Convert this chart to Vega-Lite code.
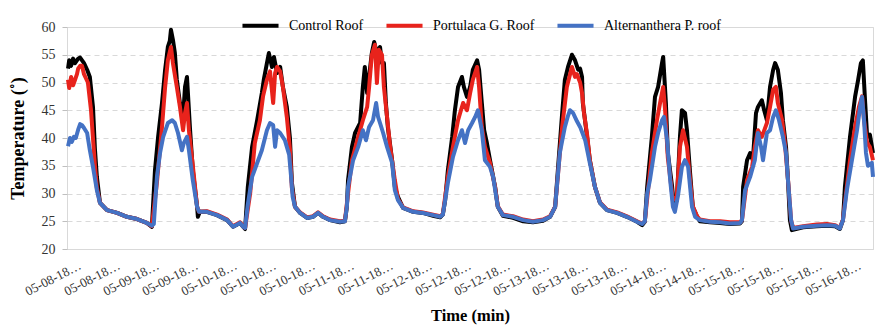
{
 "$schema": "https://vega.github.io/schema/vega-lite/v6.json",
 "width": 806,
 "height": 222,
 "autosize": {"type": "none"},
 "padding": {"left": 67, "top": 27, "right": 3, "bottom": 80},
 "config": {"view": {"stroke": "#d9d9d9", "strokeWidth": 1}, "font": "Liberation Serif"},
 "datasets": {
  "control": [
   {"t":-0.23,"temp":52.5},{"t":-0.2,"temp":54},{"t":-0.15,"temp":53},{"t":-0.1,"temp":54.3},{"t":-0.05,"temp":53.5},{"t":0.03,"temp":54.3},{"t":0.08,"temp":54.5},{"t":0.13,"temp":54},{"t":0.18,"temp":53.5},{"t":0.26,"temp":52.3},{"t":0.33,"temp":51},{"t":0.41,"temp":45.6},{"t":0.46,"temp":38},{"t":0.51,"temp":33},{"t":0.59,"temp":28.3},{"t":0.77,"temp":27},{"t":1.03,"temp":26.5},{"t":1.28,"temp":25.8},{"t":1.54,"temp":25.4},{"t":1.79,"temp":24.7},{"t":1.92,"temp":24},
   {"t":2.0,"temp":34.2},{"t":2.08,"temp":40.2},{"t":2.18,"temp":46.3},{"t":2.26,"temp":52.3},{"t":2.33,"temp":56.4},{"t":2.38,"temp":57.5},{"t":2.41,"temp":59.5},{"t":2.46,"temp":57.7},{"t":2.51,"temp":55.3},{"t":2.56,"temp":50.5},{"t":2.64,"temp":46.3},{"t":2.72,"temp":43.8},{"t":2.77,"temp":49.2},{"t":2.82,"temp":51},{"t":2.85,"temp":47.4},{"t":2.9,"temp":41.4},{"t":2.97,"temp":34.2},{"t":3.08,"temp":27.6},{"t":3.1,"temp":25.8},{"t":3.15,"temp":26.7},{"t":3.33,"temp":26.7},{"t":3.59,"temp":26.1},{"t":3.85,"temp":25.2},{"t":4.0,"temp":24},{"t":4.18,"temp":24.7},{"t":4.26,"temp":24},{"t":4.31,"temp":23.6},
   {"t":4.38,"temp":31.2},{"t":4.49,"temp":38.4},{"t":4.62,"temp":43.2},{"t":4.74,"temp":48.1},{"t":4.79,"temp":50.5},{"t":4.87,"temp":53.5},{"t":4.92,"temp":55.3},{"t":5.0,"temp":52.8},{"t":5.05,"temp":54.6},{"t":5.13,"temp":51.7},{"t":5.21,"temp":52.8},{"t":5.28,"temp":49.2},{"t":5.38,"temp":45.6},{"t":5.46,"temp":40},{"t":5.51,"temp":32},{"t":5.59,"temp":27.6},{"t":5.72,"temp":26.5},{"t":5.9,"temp":25.6},{"t":6.05,"temp":25.8},{"t":6.18,"temp":26.5},{"t":6.31,"temp":25.8},{"t":6.49,"temp":25.2},{"t":6.74,"temp":24.8},{"t":6.87,"temp":25},
   {"t":6.92,"temp":27.6},{"t":6.95,"temp":32.4},{"t":7.05,"temp":38.4},{"t":7.13,"temp":40.9},{"t":7.26,"temp":42.7},{"t":7.33,"temp":49.2},{"t":7.38,"temp":52.8},{"t":7.44,"temp":48.1},{"t":7.56,"temp":55.3},{"t":7.62,"temp":57.3},{"t":7.69,"temp":55.3},{"t":7.77,"temp":56.4},{"t":7.82,"temp":53.5},{"t":7.87,"temp":53.5},{"t":7.92,"temp":46.3},{"t":7.97,"temp":42},{"t":8.08,"temp":36},{"t":8.15,"temp":31.2},{"t":8.23,"temp":29.4},{"t":8.36,"temp":27.4},{"t":8.62,"temp":26.7},{"t":8.87,"temp":26.5},{"t":9.13,"temp":26},{"t":9.31,"temp":25.7},{"t":9.38,"temp":26.2},
   {"t":9.44,"temp":28.8},{"t":9.51,"temp":34.2},{"t":9.62,"temp":40.2},{"t":9.69,"temp":45},{"t":9.77,"temp":49.2},{"t":9.87,"temp":51},{"t":9.92,"temp":49.2},{"t":10.0,"temp":47.4},{"t":10.08,"temp":49.2},{"t":10.15,"temp":52.3},{"t":10.26,"temp":54},{"t":10.31,"temp":52.3},{"t":10.38,"temp":46.3},{"t":10.44,"temp":41.4},{"t":10.51,"temp":39.1},{"t":10.59,"temp":36},{"t":10.72,"temp":31.2},{"t":10.79,"temp":27.6},{"t":10.92,"temp":26},{"t":11.18,"temp":25.6},{"t":11.44,"temp":25},{"t":11.69,"temp":24.8},{"t":11.95,"temp":25.1},{"t":12.13,"temp":25.8},{"t":12.26,"temp":27.6},
   {"t":12.33,"temp":34.2},{"t":12.44,"temp":44.5},{"t":12.51,"temp":50.5},{"t":12.59,"temp":52.8},{"t":12.69,"temp":55},{"t":12.77,"temp":54},{"t":12.85,"temp":52.3},{"t":12.9,"temp":52.5},{"t":12.95,"temp":51},{"t":12.97,"temp":46.3},{"t":13.08,"temp":40.2},{"t":13.15,"temp":36},{"t":13.28,"temp":31.2},{"t":13.41,"temp":28.3},{"t":13.59,"temp":27},{"t":13.85,"temp":26.5},{"t":14.1,"temp":25.8},{"t":14.36,"temp":24.9},{"t":14.49,"temp":24.3},{"t":14.56,"temp":24.9},
   {"t":14.62,"temp":31.2},{"t":14.74,"temp":40.2},{"t":14.82,"temp":47.4},{"t":14.9,"temp":49.2},{"t":15.0,"temp":53.5},{"t":15.03,"temp":54.6},{"t":15.1,"temp":46.3},{"t":15.15,"temp":37.3},{"t":15.26,"temp":31.2},{"t":15.31,"temp":27.6},{"t":15.38,"temp":28.8},{"t":15.46,"temp":40.2},{"t":15.51,"temp":45},{"t":15.59,"temp":44.5},{"t":15.64,"temp":41.4},{"t":15.72,"temp":33.7},{"t":15.79,"temp":27.6},{"t":15.9,"temp":25.8},{"t":15.97,"temp":25},{"t":16.23,"temp":24.8},{"t":16.49,"temp":24.7},{"t":16.74,"temp":24.5},{"t":17.0,"temp":24.6},{"t":17.05,"temp":25},
   {"t":17.08,"temp":31.2},{"t":17.18,"temp":36},{"t":17.26,"temp":37.3},{"t":17.33,"temp":36},{"t":17.41,"temp":44.5},{"t":17.46,"temp":45.6},{"t":17.56,"temp":46.8},{"t":17.62,"temp":45},{"t":17.69,"temp":43.2},{"t":17.77,"temp":49.2},{"t":17.85,"temp":52.3},{"t":17.9,"temp":53.5},{"t":17.97,"temp":52.3},{"t":18.05,"temp":48.1},{"t":18.1,"temp":43.2},{"t":18.18,"temp":38.4},{"t":18.23,"temp":32.4},{"t":18.28,"temp":25.2},{"t":18.33,"temp":23.4},{"t":18.62,"temp":23.9},{"t":18.97,"temp":24.1},{"t":19.23,"temp":24.2},{"t":19.44,"temp":24.1},{"t":19.56,"temp":23.6},{"t":19.64,"temp":25.2},
   {"t":19.69,"temp":31.2},{"t":19.82,"temp":40.2},{"t":19.95,"temp":47.4},{"t":20.03,"temp":50.5},{"t":20.1,"temp":53.5},{"t":20.15,"temp":54},{"t":20.21,"temp":46.3},{"t":20.26,"temp":40.2},{"t":20.33,"temp":40.6},{"t":20.41,"temp":37.3}
  ],
  "portulaca": [
   {"t":-0.23,"temp":50.5},{"t":-0.2,"temp":49},{"t":-0.15,"temp":51},{"t":-0.1,"temp":49.5},{"t":-0.05,"temp":50.5},{"t":0.0,"temp":51.5},{"t":0.03,"temp":52.5},{"t":0.08,"temp":53},{"t":0.13,"temp":53},{"t":0.18,"temp":51.5},{"t":0.28,"temp":50},{"t":0.36,"temp":45},{"t":0.41,"temp":40},{"t":0.46,"temp":35},{"t":0.51,"temp":31},{"t":0.59,"temp":28.3},{"t":0.77,"temp":27},{"t":1.03,"temp":26.5},{"t":1.28,"temp":25.8},{"t":1.54,"temp":25.4},{"t":1.79,"temp":24.7},{"t":1.92,"temp":24.1},
   {"t":2.05,"temp":32},{"t":2.18,"temp":42},{"t":2.26,"temp":49.2},{"t":2.33,"temp":54},{"t":2.41,"temp":56.4},{"t":2.46,"temp":53.5},{"t":2.56,"temp":49.2},{"t":2.64,"temp":45.6},{"t":2.72,"temp":41.4},{"t":2.77,"temp":44.5},{"t":2.82,"temp":46.3},{"t":2.87,"temp":41.4},{"t":2.97,"temp":35},{"t":3.08,"temp":27.6},{"t":3.13,"temp":26.7},{"t":3.33,"temp":26.8},{"t":3.59,"temp":26.2},{"t":3.85,"temp":25.3},{"t":4.0,"temp":24.1},{"t":4.18,"temp":24.8},{"t":4.26,"temp":24.1},{"t":4.31,"temp":23.8},
   {"t":4.44,"temp":30},{"t":4.56,"temp":39.1},{"t":4.69,"temp":43.2},{"t":4.77,"temp":47.5},{"t":4.87,"temp":50.5},{"t":4.95,"temp":52},{"t":5.03,"temp":46.3},{"t":5.08,"temp":51.7},{"t":5.13,"temp":52.8},{"t":5.21,"temp":52},{"t":5.28,"temp":49.2},{"t":5.38,"temp":43.8},{"t":5.46,"temp":38},{"t":5.51,"temp":31},{"t":5.59,"temp":27.6},{"t":5.72,"temp":26.6},{"t":5.9,"temp":25.7},{"t":6.05,"temp":25.9},{"t":6.18,"temp":26.6},{"t":6.31,"temp":25.9},{"t":6.49,"temp":25.3},{"t":6.74,"temp":25},{"t":6.87,"temp":25.1},
   {"t":6.95,"temp":30},{"t":7.05,"temp":36},{"t":7.21,"temp":40.2},{"t":7.33,"temp":43.2},{"t":7.44,"temp":45.6},{"t":7.49,"temp":49.2},{"t":7.56,"temp":55},{"t":7.64,"temp":56.8},{"t":7.69,"temp":49.9},{"t":7.74,"temp":55.9},{"t":7.82,"temp":55},{"t":7.87,"temp":49.2},{"t":7.95,"temp":43.8},{"t":8.03,"temp":38.4},{"t":8.15,"temp":32.4},{"t":8.23,"temp":29},{"t":8.36,"temp":27.5},{"t":8.62,"temp":26.8},{"t":8.87,"temp":26.6},{"t":9.13,"temp":26.2},{"t":9.31,"temp":25.9},{"t":9.38,"temp":26.3},
   {"t":9.51,"temp":33},{"t":9.64,"temp":38.4},{"t":9.77,"temp":43.2},{"t":9.9,"temp":46.3},{"t":10.0,"temp":45},{"t":10.08,"temp":48.1},{"t":10.15,"temp":50.5},{"t":10.26,"temp":52.8},{"t":10.31,"temp":49.2},{"t":10.38,"temp":42},{"t":10.46,"temp":38.4},{"t":10.59,"temp":35.5},{"t":10.72,"temp":31.2},{"t":10.79,"temp":27.7},{"t":10.92,"temp":26.2},{"t":11.18,"temp":25.9},{"t":11.44,"temp":25.3},{"t":11.69,"temp":25},{"t":11.95,"temp":25.3},{"t":12.13,"temp":25.9},{"t":12.26,"temp":27.6},
   {"t":12.44,"temp":42},{"t":12.56,"temp":49.2},{"t":12.69,"temp":52.8},{"t":12.77,"temp":51},{"t":12.82,"temp":51.5},{"t":12.9,"temp":50},{"t":12.95,"temp":48.1},{"t":13.0,"temp":44.5},{"t":13.08,"temp":40.6},{"t":13.15,"temp":36},{"t":13.28,"temp":31.2},{"t":13.41,"temp":28.4},{"t":13.59,"temp":27.1},{"t":13.85,"temp":26.6},{"t":14.1,"temp":25.9},{"t":14.36,"temp":25},{"t":14.49,"temp":24.6},{"t":14.56,"temp":25},
   {"t":14.74,"temp":37.3},{"t":14.87,"temp":43.2},{"t":14.95,"temp":46.3},{"t":15.03,"temp":49.2},{"t":15.08,"temp":45},{"t":15.15,"temp":36.4},{"t":15.28,"temp":28.8},{"t":15.38,"temp":29.5},{"t":15.46,"temp":38.4},{"t":15.54,"temp":41.4},{"t":15.64,"temp":38.4},{"t":15.72,"temp":32.4},{"t":15.79,"temp":27.7},{"t":15.9,"temp":25.9},{"t":15.97,"temp":25.3},{"t":16.23,"temp":25},{"t":16.49,"temp":25},{"t":16.74,"temp":24.8},{"t":17.0,"temp":24.8},{"t":17.05,"temp":25.2},
   {"t":17.18,"temp":32.4},{"t":17.31,"temp":34.8},{"t":17.38,"temp":38.4},{"t":17.46,"temp":41.4},{"t":17.56,"temp":40.2},{"t":17.69,"temp":42.7},{"t":17.77,"temp":45.6},{"t":17.85,"temp":48.7},{"t":17.92,"temp":49.2},{"t":17.97,"temp":46.3},{"t":18.08,"temp":43.2},{"t":18.15,"temp":39.1},{"t":18.23,"temp":32.6},{"t":18.31,"temp":25.2},{"t":18.36,"temp":23.8},{"t":18.62,"temp":24.1},{"t":18.97,"temp":24.4},{"t":19.23,"temp":24.5},{"t":19.44,"temp":24.3},{"t":19.56,"temp":23.8},{"t":19.64,"temp":25.3},
   {"t":19.82,"temp":36},{"t":19.95,"temp":42},{"t":20.05,"temp":45.6},{"t":20.13,"temp":47.5},{"t":20.18,"temp":43.2},{"t":20.26,"temp":39.1},{"t":20.33,"temp":38.4},{"t":20.41,"temp":36}
  ],
  "alternanthera": [
   {"t":-0.23,"temp":38.5},{"t":-0.18,"temp":40},{"t":-0.13,"temp":39.3},{"t":-0.08,"temp":40.2},{"t":-0.03,"temp":40},{"t":0.03,"temp":41.5},{"t":0.08,"temp":42.5},{"t":0.13,"temp":42.3},{"t":0.18,"temp":41.8},{"t":0.26,"temp":40.9},{"t":0.33,"temp":37.8},{"t":0.41,"temp":34.8},{"t":0.51,"temp":30.6},{"t":0.59,"temp":28.3},{"t":0.77,"temp":27},{"t":1.03,"temp":26.5},{"t":1.28,"temp":25.8},{"t":1.54,"temp":25.4},{"t":1.79,"temp":24.7},{"t":1.92,"temp":24.2},{"t":1.97,"temp":24.5},
   {"t":2.05,"temp":33},{"t":2.13,"temp":37.3},{"t":2.21,"temp":40.2},{"t":2.33,"temp":42.7},{"t":2.44,"temp":43.2},{"t":2.51,"temp":42.7},{"t":2.59,"temp":40.9},{"t":2.69,"temp":37.8},{"t":2.74,"temp":39.1},{"t":2.82,"temp":40.2},{"t":2.87,"temp":37.8},{"t":2.97,"temp":32.4},{"t":3.08,"temp":27.6},{"t":3.13,"temp":26.7},{"t":3.33,"temp":26.7},{"t":3.59,"temp":26.1},{"t":3.85,"temp":25.2},{"t":4.0,"temp":24},{"t":4.18,"temp":24.7},{"t":4.26,"temp":24},{"t":4.31,"temp":23.8},
   {"t":4.38,"temp":28},{"t":4.49,"temp":33},{"t":4.62,"temp":35.5},{"t":4.74,"temp":37.8},{"t":4.87,"temp":41.4},{"t":4.95,"temp":42.7},{"t":5.03,"temp":42.3},{"t":5.08,"temp":38.4},{"t":5.13,"temp":41.4},{"t":5.21,"temp":40.9},{"t":5.33,"temp":39.6},{"t":5.44,"temp":37},{"t":5.49,"temp":33},{"t":5.53,"temp":29.4},{"t":5.59,"temp":27.6},{"t":5.72,"temp":26.5},{"t":5.9,"temp":25.6},{"t":6.05,"temp":25.8},{"t":6.18,"temp":26.5},{"t":6.31,"temp":25.8},{"t":6.49,"temp":25.2},{"t":6.74,"temp":24.9},{"t":6.87,"temp":25},
   {"t":6.92,"temp":27.6},{"t":6.95,"temp":31.2},{"t":7.08,"temp":36},{"t":7.21,"temp":38.4},{"t":7.33,"temp":41.4},{"t":7.41,"temp":39.6},{"t":7.49,"temp":42},{"t":7.59,"temp":43.2},{"t":7.67,"temp":46.3},{"t":7.72,"temp":43.8},{"t":7.77,"temp":42.7},{"t":7.85,"temp":40.9},{"t":7.95,"temp":38.4},{"t":8.08,"temp":35.5},{"t":8.15,"temp":30.6},{"t":8.23,"temp":28.8},{"t":8.36,"temp":27.4},{"t":8.62,"temp":26.7},{"t":8.87,"temp":26.5},{"t":9.13,"temp":26.1},{"t":9.31,"temp":25.8},{"t":9.38,"temp":26.2},
   {"t":9.44,"temp":28.8},{"t":9.51,"temp":31.9},{"t":9.64,"temp":36.6},{"t":9.77,"temp":39.6},{"t":9.87,"temp":41.4},{"t":9.95,"temp":39.1},{"t":10.03,"temp":41.4},{"t":10.13,"temp":42.7},{"t":10.21,"temp":43.8},{"t":10.28,"temp":45},{"t":10.38,"temp":41.4},{"t":10.46,"temp":36},{"t":10.59,"temp":34.8},{"t":10.67,"temp":33},{"t":10.79,"temp":27.6},{"t":10.92,"temp":26.1},{"t":11.18,"temp":25.8},{"t":11.44,"temp":25.2},{"t":11.69,"temp":24.9},{"t":11.95,"temp":25.2},{"t":12.13,"temp":25.8},{"t":12.26,"temp":27.6},
   {"t":12.38,"temp":37.3},{"t":12.51,"temp":42},{"t":12.59,"temp":44},{"t":12.64,"temp":45},{"t":12.72,"temp":44.5},{"t":12.82,"temp":43},{"t":12.9,"temp":42},{"t":13.03,"temp":39.6},{"t":13.15,"temp":35.5},{"t":13.28,"temp":31.2},{"t":13.41,"temp":28.3},{"t":13.59,"temp":27},{"t":13.85,"temp":26.5},{"t":14.1,"temp":25.8},{"t":14.36,"temp":24.9},{"t":14.49,"temp":24.5},{"t":14.56,"temp":25},
   {"t":14.62,"temp":30},{"t":14.69,"temp":32.4},{"t":14.82,"temp":38.4},{"t":14.9,"temp":40.9},{"t":15.0,"temp":43.2},{"t":15.05,"temp":43.8},{"t":15.13,"temp":39.6},{"t":15.21,"temp":32.4},{"t":15.28,"temp":27.6},{"t":15.33,"temp":26.7},{"t":15.41,"temp":29.6},{"t":15.51,"temp":34.8},{"t":15.59,"temp":36},{"t":15.67,"temp":34.8},{"t":15.77,"temp":27.6},{"t":15.85,"temp":25.8},{"t":15.97,"temp":25.2},{"t":16.23,"temp":24.9},{"t":16.49,"temp":24.8},{"t":16.74,"temp":24.6},{"t":17.0,"temp":24.7},{"t":17.05,"temp":25.2},
   {"t":17.13,"temp":30.6},{"t":17.26,"temp":33},{"t":17.38,"temp":36},{"t":17.46,"temp":40.9},{"t":17.54,"temp":38.4},{"t":17.59,"temp":36},{"t":17.69,"temp":40.9},{"t":17.77,"temp":41.4},{"t":17.85,"temp":43.8},{"t":17.92,"temp":45},{"t":18.0,"temp":43.2},{"t":18.1,"temp":40.2},{"t":18.18,"temp":37.3},{"t":18.23,"temp":32.4},{"t":18.31,"temp":25.2},{"t":18.36,"temp":23.7},{"t":18.62,"temp":24},{"t":18.97,"temp":24.2},{"t":19.23,"temp":24.3},{"t":19.44,"temp":24.2},{"t":19.56,"temp":23.7},{"t":19.64,"temp":25.2},
   {"t":19.74,"temp":30.6},{"t":19.87,"temp":36},{"t":20.0,"temp":41.4},{"t":20.08,"temp":45.6},{"t":20.13,"temp":47.4},{"t":20.18,"temp":43.2},{"t":20.23,"temp":37.3},{"t":20.28,"temp":35},{"t":20.38,"temp":35.5},{"t":20.41,"temp":33}
  ]
 },
 "encoding": {
  "x": {
   "field": "t", "type": "quantitative",
   "scale": {"domain": [-0.256, 20.41], "nice": false, "zero": false},
   "axis": {
    "values": [0,1,2,3,4,5,6,7,8,9,10,11,12,13,14,15,16,17,18,19,20],
    "labelExpr": "['05-08-18…','05-08-18…','05-09-18…','05-09-18…','05-10-18…','05-10-18…','05-10-18…','05-11-18…','05-11-18…','05-12-18…','05-12-18…','05-12-18…','05-13-18…','05-13-18…','05-13-18…','05-14-18…','05-14-18…','05-15-18…','05-15-18…','05-15-18…','05-16-18…'][datum.value]",
    "labelAngle": -27, "labelFontSize": 13, "labelColor": "#333333", "labelFont": "Liberation Serif",
    "labelPadding": 10, "labelOverlap": false, "labelFlush": false, "labelBound": false,
    "ticks": false, "grid": false, "domainColor": "#d9d9d9",
    "title": "Time (min)", "titleFont": "Liberation Serif", "titleFontSize": 16.5, "titleFontWeight": "bold", "titleColor": "#000000", "titlePadding": 9
   }
  },
  "y": {
   "field": "temp", "type": "quantitative",
   "scale": {"domain": [20, 60], "nice": false, "zero": false},
   "axis": {
    "values": [20,25,30,35,40,45,50,55,60],
    "grid": true, "gridDash": [5, 4], "gridColor": "#d9d9d9",
    "domain": false, "tickColor": "#bfbfbf", "tickSize": 5,
    "labelFontSize": 14, "labelColor": "#333333", "labelFont": "Liberation Serif", "labelPadding": 7,
    "title": "Temperature (˚)", "titleFont": "Liberation Serif", "titleFontSize": 18, "titleFontWeight": "bold", "titleColor": "#000000", "titlePadding": 14
   }
  },
  "color": {
   "datum": "Control Roof", "type": "nominal",
   "scale": {"domain": ["Control Roof", "Portulaca G. Roof", "Alternanthera P. roof"], "range": ["#000000", "#e8231c", "#4472c4"]},
   "legend": {
    "title": null, "orient": "none", "legendX": 173, "legendY": -22, "direction": "horizontal",
    "symbolType": "stroke", "symbolSize": 1300, "symbolStrokeWidth": 4,
    "labelFont": "Liberation Serif", "labelFontSize": 14, "labelColor": "#000000", "labelOffset": 8, "columnPadding": 14
   }
  }
 },
 "layer": [
  {"data": {"name": "control"}, "mark": {"type": "line", "strokeWidth": 4, "strokeJoin": "round"}},
  {"data": {"name": "portulaca"}, "mark": {"type": "line", "strokeWidth": 4, "strokeJoin": "round"}, "encoding": {"color": {"datum": "Portulaca G. Roof", "type": "nominal"}}},
  {"data": {"name": "alternanthera"}, "mark": {"type": "line", "strokeWidth": 4, "strokeJoin": "round"}, "encoding": {"color": {"datum": "Alternanthera P. roof", "type": "nominal"}}}
 ]
}
